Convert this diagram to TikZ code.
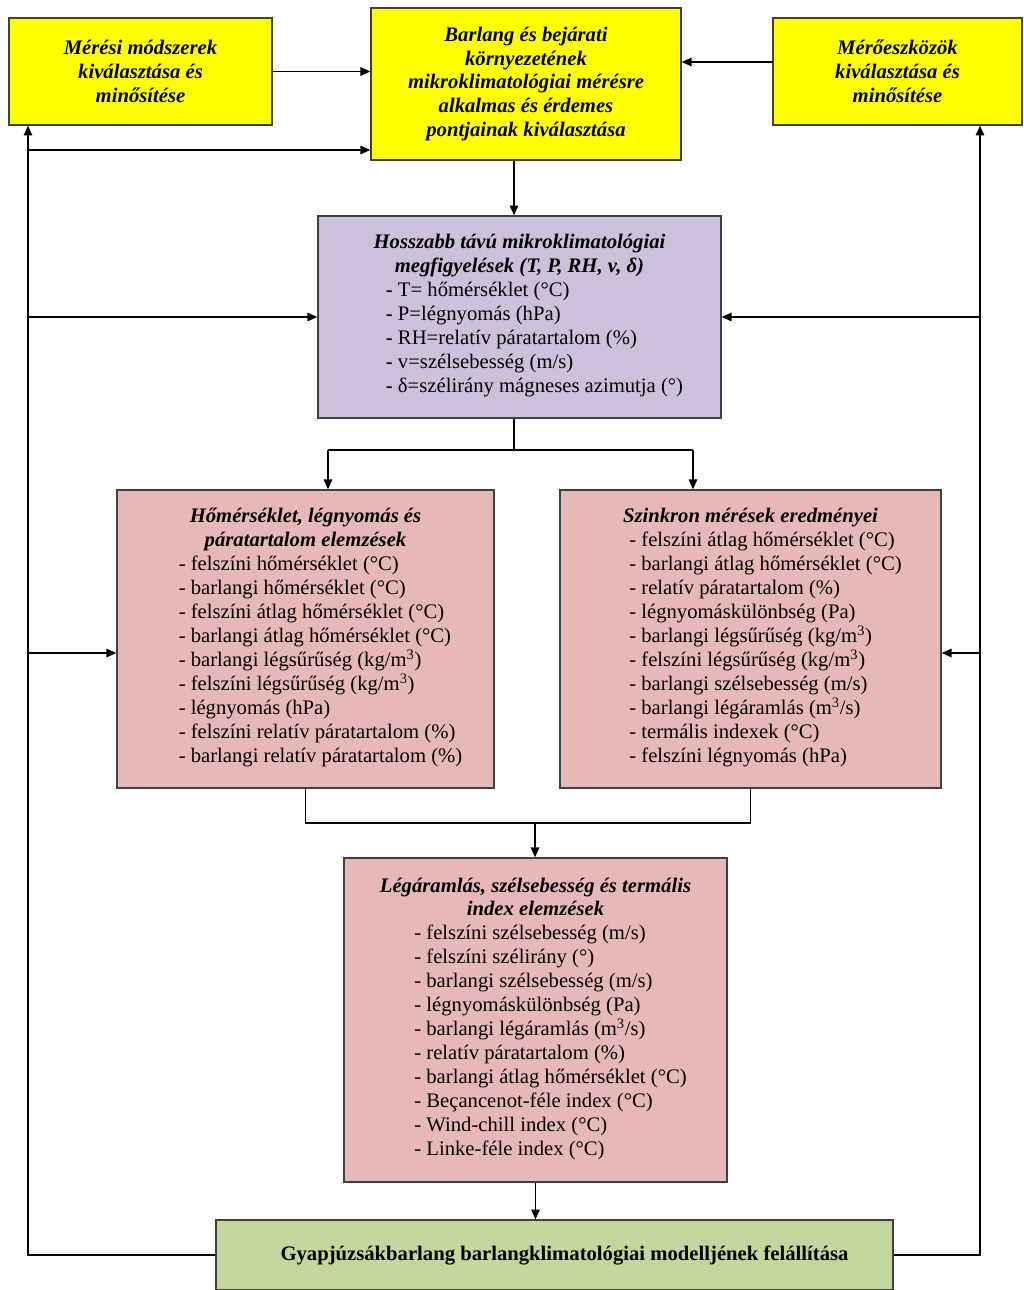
\documentclass[tikz,border=0pt]{standalone}
\usepackage{fontspec}
\setmainfont{Liberation Serif}
\usetikzlibrary{arrows.meta}

\definecolor{boxyellow}{RGB}{255,255,0}
\definecolor{boxlilac}{RGB}{204,192,218}
\definecolor{boxpink}{RGB}{230,185,184}
\definecolor{boxgreen}{RGB}{195,214,155}
\definecolor{boxline}{RGB}{64,64,64}

\newcommand{\lista}[1]{\hspace*{0.75cm}\begin{tabular}[t]{@{}l@{}}#1\end{tabular}}

\begin{document}
\begin{tikzpicture}[x=0.025cm, y=-0.025cm,
    box/.style={rectangle, draw=boxline, line width=0.9pt, align=center,
        inner sep=0pt, font=\fontsize{14.7}{17}\selectfont},
    yellowbox/.style={box, fill=boxyellow},
    lilacbox/.style={box, fill=boxlilac},
    pinkbox/.style={box, fill=boxpink},
    greenbox/.style={box, fill=boxgreen},
    flow/.style={line width=1pt, -{Triangle[length=7pt,width=6pt]}},
    wire/.style={line width=1pt}
]
    \useasboundingbox (0,0) rectangle (1024,1290);

    \node[yellowbox, minimum width=6.575cm, minimum height=2.675cm] (mmod) at (140.5,71.5)
        {\bfseries\itshape M\'er\'esi m\'odszerek\\ \bfseries\itshape kiv\'alaszt\'asa \'es\\ \bfseries\itshape min\H{o}s\'it\'ese};
    \node[yellowbox, minimum width=7.75cm, minimum height=3.8cm] (hely) at (526,84)
        {\bfseries\itshape Barlang \'es bej\'arati\\ \bfseries\itshape k\"ornyezet\'enek\\
         \bfseries\itshape mikroklimatol\'ogiai m\'er\'esre\\ \bfseries\itshape alkalmas \'es \'erdemes\\
         \bfseries\itshape pontjainak kiv\'alaszt\'asa};
    \node[yellowbox, minimum width=6.225cm, minimum height=2.675cm] (meszk) at (897.5,71.5)
        {\bfseries\itshape M\'er\H{o}eszk\"oz\"ok\\ \bfseries\itshape kiv\'alaszt\'asa \'es\\ \bfseries\itshape min\H{o}s\'it\'ese};

    \node[lilacbox, minimum width=10.075cm, minimum height=5.05cm] (megf) at (519.5,317)
        {\bfseries\itshape Hosszabb t\'av\'u mikroklimatol\'ogiai\\ \bfseries\itshape megfigyel\'esek (T, P, RH, v, δ)\\
         \lista{- T= h\H{o}m\'ers\'eklet (°C)\\ - P=l\'egnyom\'as (hPa)\\ - RH=relat\'iv p\'aratartalom (\%)\\
         - v=sz\'elsebess\'eg (m/s)\\ - δ=sz\'elir\'any m\'agneses azimutja (°)}};

    \node[pinkbox, minimum width=9.425cm, minimum height=7.45cm] (hlp) at (305.5,639)
        {\bfseries\itshape H\H{o}m\'ers\'eklet, l\'egnyom\'as \'es\\ \bfseries\itshape p\'aratartalom elemz\'esek\\
         \lista{- felsz\'ini h\H{o}m\'ers\'eklet (°C)\\ - barlangi h\H{o}m\'ers\'eklet (°C)\\
         - felsz\'ini \'atlag h\H{o}m\'ers\'eklet (°C)\\ - barlangi \'atlag h\H{o}m\'ers\'eklet (°C)\\
         - barlangi l\'egs\H{u}r\H{u}s\'eg (kg/m\textsuperscript{3})\\ - felsz\'ini l\'egs\H{u}r\H{u}s\'eg (kg/m\textsuperscript{3})\\
         - l\'egnyom\'as (hPa)\\ - felsz\'ini relat\'iv p\'aratartalom (\%)\\ - barlangi relat\'iv p\'aratartalom (\%)}};
    \node[pinkbox, minimum width=9.525cm, minimum height=7.45cm] (szinkron) at (750.5,639)
        {\bfseries\itshape Szinkron m\'er\'esek eredm\'enyei\\
         \lista{- felsz\'ini \'atlag h\H{o}m\'ers\'eklet (°C)\\ - barlangi \'atlag h\H{o}m\'ers\'eklet (°C)\\
         - relat\'iv p\'aratartalom (\%)\\ - l\'egnyom\'ask\"ul\"onbs\'eg (Pa)\\
         - barlangi l\'egs\H{u}r\H{u}s\'eg (kg/m\textsuperscript{3})\\ - felsz\'ini l\'egs\H{u}r\H{u}s\'eg (kg/m\textsuperscript{3})\\
         - barlangi sz\'elsebess\'eg (m/s)\\ - barlangi l\'eg\'araml\'as (m\textsuperscript{3}/s)\\
         - term\'alis indexek (°C)\\ - felsz\'ini l\'egnyom\'as (hPa)}};

    \node[pinkbox, minimum width=9.575cm, minimum height=8.1cm] (legar) at (535.5,1020)
        {\bfseries\itshape L\'eg\'araml\'as, sz\'elsebess\'eg \'es term\'alis\\ \bfseries\itshape index elemz\'esek\\
         \lista{- felsz\'ini sz\'elsebess\'eg (m/s)\\ - felsz\'ini sz\'elir\'any (°)\\
         - barlangi sz\'elsebess\'eg (m/s)\\ - l\'egnyom\'ask\"ul\"onbs\'eg (Pa)\\
         - barlangi l\'eg\'araml\'as (m\textsuperscript{3}/s)\\ - relat\'iv p\'aratartalom (\%)\\
         - barlangi \'atlag h\H{o}m\'ers\'eklet (°C)\\ - Beçancenot-f\'ele index (°C)\\
         - Wind-chill index (°C)\\ - Linke-f\'ele index (°C)}};

    \node[greenbox, minimum width=16.925cm, minimum height=1.75cm] (modell) at (554.5,1255)
        {\hspace*{0.5cm}\bfseries Gyapj\'uzs\'akbarlang barlangklimatol\'ogiai modellj\'enek fel\'all\'it\'asa};

    % feedback buses
    \coordinate (lbus) at (28,0);
    \coordinate (rbus) at (980,0);
    \coordinate (l1) at (28,150);
    \coordinate (l2) at (28,653);
    \coordinate (r0) at (773,62);
    \coordinate (r2) at (980,653);
    \coordinate (dn) at (514,0);
    \coordinate (sl) at (328,450);
    \coordinate (sr) at (693,450);
    \coordinate (jn) at (535,823);

    \draw[flow] (mmod.east) -- (mmod.east -| hely.west);
    \draw[flow] (r0) -- (r0 -| hely.east);
    \draw[flow] (dn |- hely.south) -- (dn |- megf.north);

    \draw[flow] (modell.west) -| (lbus |- mmod.south);
    \draw[flow] (l1) -- (l1 -| hely.west);
    \draw[flow] (lbus |- megf.west) -- (megf.west);
    \draw[flow] (l2) -- (l2 -| hlp.west);
    \draw[flow] (modell.east) -| (rbus |- meszk.south);
    \draw[flow] (rbus |- megf.east) -- (megf.east);
    \draw[flow] (r2) -- (r2 -| szinkron.east);

    \draw[wire] (dn |- megf.south) -- (dn |- sl);
    \draw[wire] (sl) -- (sr);
    \draw[flow] (sl) -- (sl |- hlp.north);
    \draw[flow] (sr) -- (sr |- szinkron.north);

    \draw[wire] (hlp.south) |- (jn) -| (szinkron.south);
    \draw[flow] (jn) -- (jn |- legar.north);
    \draw[flow] (legar.south) -- (legar.south |- modell.north);
\end{tikzpicture}
\end{document}
